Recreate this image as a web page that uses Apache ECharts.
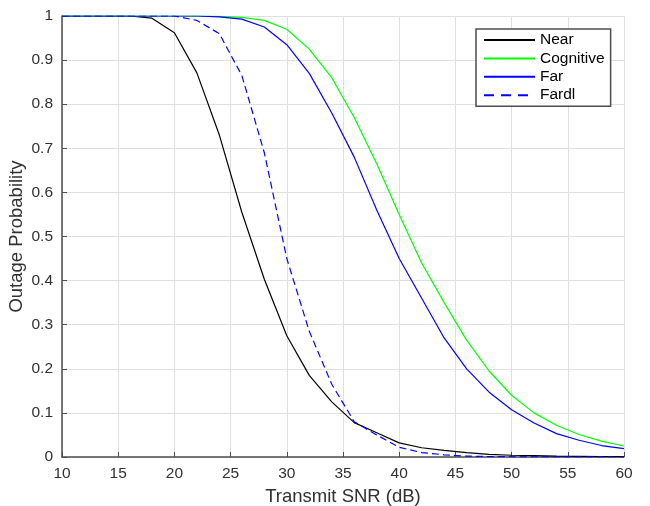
<!DOCTYPE html>
<html>
<head>
<meta charset="utf-8">
<script src="https://cdn.jsdelivr.net/npm/echarts@6/dist/echarts.min.js"></script>
<style>
html,body{margin:0;padding:0;background:#fff;}
#main{width:650px;height:506px;}
</style>
</head>
<body>
<div id="main"></div>
<script>
var snr = [10,12,14,16,18,20,22,24,26,28,30,32,34,36,38,40,42,44,46,48,50,52,54,56,58,60];
var near = [1,1,1,1,0.995,0.962,0.871,0.73,0.555,0.403,0.275,0.185,0.125,0.078,0.055,0.032,0.021,0.015,0.010,0.006,0.004,0.003,0.002,0.0015,0.001,0.001];
var cognitive = [1,1,1,1,1,1,1,0.999,0.997,0.99,0.97,0.925,0.86,0.77,0.665,0.55,0.44,0.35,0.265,0.195,0.14,0.10,0.072,0.051,0.036,0.025];
var far = [1,1,1,1,1,1,1,0.998,0.993,0.975,0.935,0.87,0.78,0.68,0.56,0.45,0.36,0.27,0.20,0.147,0.107,0.077,0.053,0.038,0.026,0.019];
var fardl = [1,1,1,1,1,1,0.99,0.96,0.865,0.69,0.45,0.285,0.165,0.08,0.05,0.022,0.01,0.005,0.002,0.001,0.0005,0.0003,0.0002,0.0001,0.0001,0];
var names = ['Near','Cognitive','Far','Fardl'];

function pairs(ys){ return snr.map(function(x,i){ return [x, ys[i]]; }); }

var font = 'Liberation Sans, Arial, Helvetica, sans-serif';
var textColor = '#303030';
var chart = echarts.init(document.getElementById('main'), null, {renderer:'canvas'});
chart.setOption({
  animation:false,
  backgroundColor:'#ffffff',
  grid:{left:62,right:26,top:16,bottom:49,containLabel:false,outerBoundsMode:'none'},
  xAxis:{
    type:'value', min:10, max:60, interval:5,
    name:'Transmit SNR (dB)', nameLocation:'middle', nameGap:30, nameMoveOverlap:false,
    nameTextStyle:{fontFamily:font,fontSize:18.5,color:textColor},
    axisLine:{show:true,lineStyle:{color:'#4d4d4d',width:1.5}},
    axisTick:{show:true,inside:true,length:5,lineStyle:{color:'#4d4d4d'}},
    axisLabel:{fontFamily:font,fontSize:15.5,color:textColor,margin:9},
    splitLine:{show:true,lineStyle:{color:'#dfdfdf',width:1}}
  },
  yAxis:{
    type:'value', min:0, max:1, interval:0.1,
    name:'Outage Probability', nameLocation:'middle', nameGap:36, nameMoveOverlap:false,
    nameTextStyle:{fontFamily:font,fontSize:18.5,color:textColor},
    axisLine:{show:true,lineStyle:{color:'#4d4d4d',width:1.5}},
    axisTick:{show:true,inside:true,length:5,lineStyle:{color:'#4d4d4d'}},
    axisLabel:{fontFamily:font,fontSize:15.5,color:textColor,margin:9,
      formatter:function(v){ return String(Math.round(v*10)/10); }},
    splitLine:{show:true,lineStyle:{color:'#dfdfdf',width:1}}
  },
  legend:{
    orient:'vertical', left:476, top:29,
    data:[
      {name:names[0], lineStyle:{width:2}},
      {name:names[1], lineStyle:{width:2}},
      {name:names[2], lineStyle:{width:2}},
      {name:names[3], lineStyle:{width:2, type:[10,7]}}
    ],
    itemWidth:51, itemHeight:14, itemGap:2.4,
    padding:[3,6,3,7],
    itemStyle:{opacity:0},
    borderColor:'#4d4d4d', borderWidth:1.5, backgroundColor:'#ffffff',
    textStyle:{fontFamily:font,fontSize:15.5,color:'#000',lineHeight:16}
  },
  series:[
    {name:'Near',type:'line',data:pairs(near),showSymbol:false,symbol:'none',lineStyle:{color:'#000000',width:1.2},itemStyle:{color:'#000000'}},
    {name:'Cognitive',type:'line',data:pairs(cognitive),showSymbol:false,symbol:'none',lineStyle:{color:'#00ff00',width:1.2},itemStyle:{color:'#00ff00'}},
    {name:'Far',type:'line',data:pairs(far),showSymbol:false,symbol:'none',lineStyle:{color:'#0000ff',width:1.2},itemStyle:{color:'#0000ff'}},
    {name:'Fardl',type:'line',data:pairs(fardl),showSymbol:false,symbol:'none',lineStyle:{color:'#0000ff',width:1.2,type:[7,4]},itemStyle:{color:'#0000ff'}}
  ]
});
</script>
</body>
</html>
